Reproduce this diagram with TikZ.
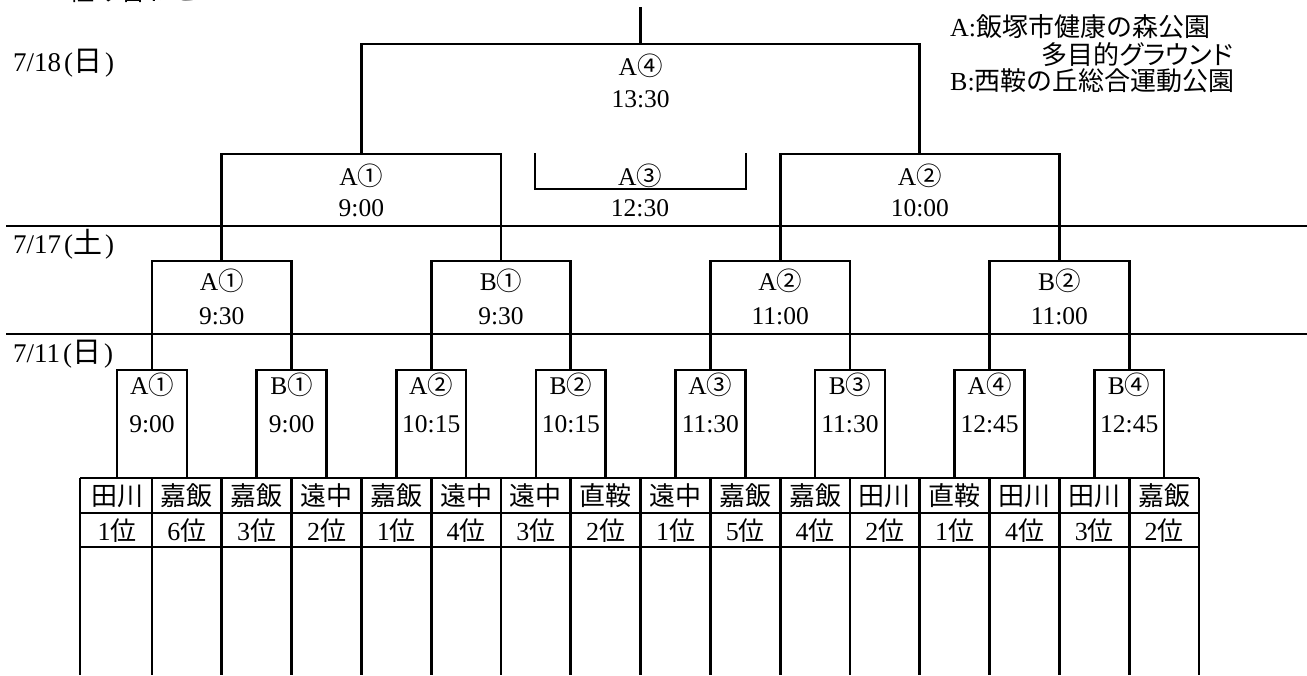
\documentclass[tikz,border=0pt]{standalone}
\usepackage{fontspec}
\setmainfont{Liberation Serif}
\newfontfamily\jp{Noto Sans CJK JP}
\newfontfamily\jpp[RawFeature=+palt]{Noto Sans CJK JP}
\newcommand\J[1]{{\jp #1}}
\newcommand\dateday[1]{\hspace{3pt}({\jp\fontsize{29}{30}\selectfont #1}\hspace{3pt})}
\begin{document}
\begin{tikzpicture}[x=1pt,y=-1pt,
  bk/.style={line width=2.7pt, line join=miter},
  lab/.style={inner sep=0pt, font=\fontsize{25.5}{28}\selectfont},
  datelab/.style={inner sep=0pt, anchor=west, font=\fontsize{27}{30}\selectfont},
  leg/.style={inner sep=0pt, font=\fontsize{26}{30}\selectfont},
  cell/.style={inner sep=0pt, font=\fontsize{26}{28}\selectfont}]
\useasboundingbox (0,0) rectangle (1307,675);
% cut title
\node[cell, anchor=west] (title) at (68,-9) {\J{組み合わせ}};
% date lines
\coordinate (d1l) at (6,226); \coordinate (d1r) at (1307,226);
\coordinate (d2l) at (6,334); \coordinate (d2r) at (1307,334);
\draw[bk] (d1l) -- (d1r);
\draw[bk] (d2l) -- (d2r);
\node[datelab] (date3) at (13,63) {7/18\dateday{日}};
\node[datelab] (date2) at (13,244) {7/17\dateday{土}};
\node[datelab] (date1) at (13,354) {7/11\dateday{日}};
% legend
\node[leg, anchor=west] (legA) at (950,27) {A:\J{飯塚市健康の森公園}};
\node[leg, anchor=east] (legA2) at (1233,55) {\jpp 多目的グラウンド};
\node[leg, anchor=west] (legB) at (950,81) {B:\J{西鞍の丘総合運動公園}};
% table
\coordinate (tl) at (80,478); \coordinate (tr) at (1199,478);
\coordinate (ml) at (80,513); \coordinate (mr) at (1199,513);
\coordinate (bl) at (80,547); \coordinate (br) at (1199,547);
\draw[bk] (tl) -- (tr);
\draw[bk] (ml) -- (mr);
\draw[bk] (bl) -- (br);
\coordinate (v0t) at (80,478); \coordinate (v0b) at (80,675);
\draw[bk] (v0t) -- (v0b);
\foreach \i in {1,...,16}{
  \coordinate (v\i t) at ({82.2+69.8*\i},478);
  \coordinate (v\i b) at ({82.2+69.8*\i},675);
  \draw[bk] (v\i t) -- (v\i b);
}
\foreach \i/\tm/\rk in {1/田川/1,2/嘉飯/6,3/嘉飯/3,4/遠中/2,5/嘉飯/1,6/遠中/4,7/遠中/3,8/直鞍/2,9/遠中/1,10/嘉飯/5,11/嘉飯/4,12/田川/2,13/直鞍/1,14/田川/4,15/田川/3,16/嘉飯/2}{
  \coordinate (t\i) at ({47.3+69.8*\i},478);
  \node[cell] (team\i) at ({47.3+69.8*\i},496) {\J{\tm}};
  \node[cell] (rank\i) at ({47.3+69.8*\i},530.5) {\rk\J{位}};
}
% round 1
\foreach \k/\v/\n/\tt in {1/A/①/9:00,2/B/①/9:00,3/A/②/10:15,4/B/②/10:15,5/A/③/11:30,6/B/③/11:30,7/A/④/12:45,8/B/④/12:45}{
  \coordinate (r1-\k) at ({12.4+139.6*\k},370);
  \node[lab] (r1n-\k) at ({12.4+139.6*\k},385) {\v\J{\n}};
  \node[lab] (r1t-\k) at ({12.4+139.6*\k},424) {\tt};
}
\foreach \k in {1,...,8}{
  \pgfmathtruncatemacro\a{2*\k-1}
  \pgfmathtruncatemacro\b{2*\k}
  \draw[bk] (t\a) |- (r1-\k) -| (t\b);
}
% round 2
\foreach \j/\v/\n/\tt in {1/A/①/9:30,2/B/①/9:30,3/A/②/11:00,4/B/②/11:00}{
  \coordinate (r2-\j) at ({-57.4+279.2*\j},261);
  \node[lab] (r2n-\j) at ({-57.4+279.2*\j},281) {\v\J{\n}};
  \node[lab] (r2t-\j) at ({-57.4+279.2*\j},316) {\tt};
}
\foreach \j in {1,...,4}{
  \pgfmathtruncatemacro\a{2*\j-1}
  \pgfmathtruncatemacro\b{2*\j}
  \draw[bk] (r1-\a) |- (r2-\j) -| (r1-\b);
}
% semifinals
\coordinate (s-1) at (361.4,154);
\coordinate (s-2) at (919.8,154);
\draw[bk] (r2-1) |- (s-1) -| (r2-2);
\draw[bk] (r2-3) |- (s-2) -| (r2-4);
\node[lab] (s1n) at (361.4,176) {A\J{①}};
\node[lab] (s1t) at (361.4,208) {9:00};
\node[lab] (s2n) at (919.8,176) {A\J{②}};
\node[lab] (s2t) at (919.8,208) {10:00};
% third place
\coordinate (a3l) at (535,153); \coordinate (a3r) at (746,153);
\coordinate (a3b) at (640,189);
\draw[bk] (a3l) |- (a3b) -| (a3r);
\node[lab] (a3n) at (640,176) {A\J{③}};
\node[lab] (a3t) at (640,208) {12:30};
% final
\coordinate (f) at (640.6,44);
\coordinate (top) at (640.6,7);
\draw[bk] (s-1) |- (f) -| (s-2);
\draw[bk] (f) -- (top);
\node[lab] (fn) at (640.6,66) {A\J{④}};
\node[lab] (ft) at (640.6,99) {13:30};
\end{tikzpicture}
\end{document}
